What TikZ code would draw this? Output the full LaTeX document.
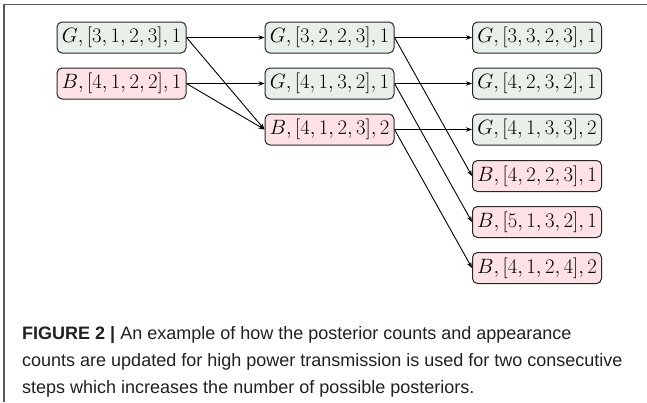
\documentclass[tikz,border=0pt]{standalone}
\usepackage{fontspec}
\setmainfont{Latin Modern Roman}
\newfontfamily\capfont{Liberation Sans}
\usetikzlibrary{arrows.meta}
\definecolor{gfill}{HTML}{E9EFE9}
\definecolor{bfill}{HTML}{FEE2E5}
\definecolor{frame}{HTML}{5A5A5A}
\definecolor{captext}{HTML}{231F20}
\tikzset{
  stbox/.style={draw=black!85, line width=1pt, rounded corners=5pt,
    minimum width=129pt, minimum height=31pt, inner sep=0pt,
    font=\fontsize{19.6}{21}\selectfont},
  gbox/.style={stbox, fill=gfill},
  bbox/.style={stbox, fill=bfill},
  conn/.style={line width=0.9pt, -{Stealth[length=6pt,width=4.5pt]}},
}
\begin{document}
\begin{tikzpicture}[x=1pt,y=-1pt]
\useasboundingbox (0,0) rectangle (647,402);
\draw[frame, line width=1.2pt] (647,4.5) -- (4,4.5) -- (4,402);
% column 1
\node[gbox] (a1) at (121.5,37.5) {$G,[3,1,2,3],1$};
\node[bbox] (a2) at (121.5,83.5) {$B,[4,1,2,2],1$};
% column 2
\node[gbox] (b1) at (329.5,37.5) {$G,[3,2,2,3],1$};
\node[gbox] (b2) at (329.5,83.5) {$G,[4,1,3,2],1$};
\node[bbox] (b3) at (329.5,129.5) {$B,[4,1,2,3],2$};
% column 3
\node[gbox] (c1) at (537,37.5) {$G,[3,3,2,3],1$};
\node[gbox] (c2) at (537,83.5) {$G,[4,2,3,2],1$};
\node[gbox] (c3) at (537,129.5) {$G,[4,1,3,3],2$};
\node[bbox] (c4) at (537,176) {$B,[4,2,2,3],1$};
\node[bbox] (c5) at (537,222) {$B,[5,1,3,2],1$};
\node[bbox] (c6) at (537,268) {$B,[4,1,2,4],2$};
% connectors
\draw[conn] (a1.east) -- (b1.west);
\draw[conn] (a1.east) -- (b3.west);
\draw[conn] (a2.east) -- (b2.west);
\draw[conn] (a2.east) -- (b3.west);
\draw[conn] (b1.east) -- (c1.west);
\draw[conn] (b1.east) -- (c4.west);
\draw[conn] (b2.east) -- (c2.west);
\draw[conn] (b2.east) -- (c5.west);
\draw[conn] (b3.east) -- (c3.west);
\draw[conn] (b3.east) -- (c6.west);
% caption
\node[anchor=base west, align=left, inner sep=0pt, text=captext,
  font=\capfont\fontsize{18}{27}\selectfont] (cap) at (22,393)
  {\textbf{FIGURE 2 |} An example of how the posterior counts and appearance\\
   counts are updated for high power transmission is used for two consecutive\\
   steps which increases the number of possible posteriors.};
\end{tikzpicture}
\end{document}
